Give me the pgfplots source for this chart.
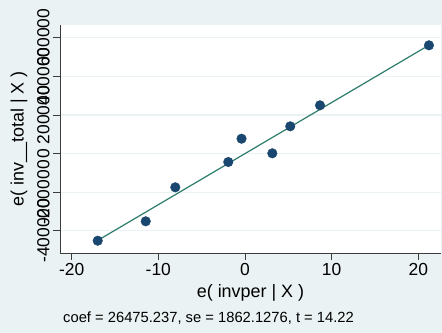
\documentclass[border=0pt]{standalone}
\usepackage{fontspec}
\setmainfont{Liberation Sans}
\usepackage{pgfplots}
\pgfplotsset{compat=1.18}
\definecolor{bgc}{RGB}{234,242,243}
\definecolor{navy}{RGB}{26,71,111}
\definecolor{fitc}{RGB}{45,124,107}
\definecolor{axc}{RGB}{60,60,60}
\begin{document}
\begin{tikzpicture}
\path[use as bounding box, fill=bgc] (-60bp,-80bp) rectangle (382bp,253bp);
\begin{axis}[
  at={(0,0)}, anchor=south west,
  scale only axis, width=381bp, height=228bp,
  xmin=-21.34, xmax=22.61, ymin=-515000, ymax=666300,
  axis background/.style={fill=white},
  axis x line*=bottom, axis y line*=left,
  axis line style={axc, line width=0.9pt, -},
  xtick={-20,-10,0,10,20},
  xticklabels={-20,-10,0,10,20},
  ytick={-400000,-200000,0,200000,400000,600000},
  yticklabels={-400000,-200000,0,200000,400000,600000},
  scaled y ticks=false, scaled x ticks=false,
  tick align=outside, major tick length=7bp,
  tick style={axc, line width=0.8pt},
  ymajorgrids, grid style={bgc, line width=1.2pt},
  xticklabel style={font=\fontsize{17.5}{20}\selectfont},
  yticklabel style={font=\fontsize{17.5}{20}\selectfont, rotate=90, anchor=south},
  every axis x label/.style={at={(rel axis cs:0.5,0)}, yshift=-40bp, anchor=center, font=\fontsize{18}{20}\selectfont},
  every axis y label/.style={at={(rel axis cs:0,0.5)}, xshift=-41bp, rotate=90, anchor=center, font=\fontsize{18}{20}\selectfont},
  xlabel={e( invper | X )},
  ylabel={e( inv\_\_total | X )},
  clip=false,
]
\addplot[fitc, line width=1.2pt, no marks] coordinates {(-16.99,-449814) (21.22,561805)};
\addplot[only marks, mark=*, mark size=4.8bp, mark options={fill=navy, draw=navy}] coordinates {
(-16.99,-451300)
(-11.45,-350800)
(-8.04,-174600)
(-1.93,-43500)
(-0.40,77200)
(3.15,1550)
(5.22,141400)
(8.65,250200)
(21.22,561100)
};
\end{axis}
\node[anchor=west, font=\fontsize{14.8}{17}\selectfont, inner sep=0pt] at (3bp,-65bp) {coef = 26475.237, se = 1862.1276, t = 14.22};
\end{tikzpicture}
\end{document}
